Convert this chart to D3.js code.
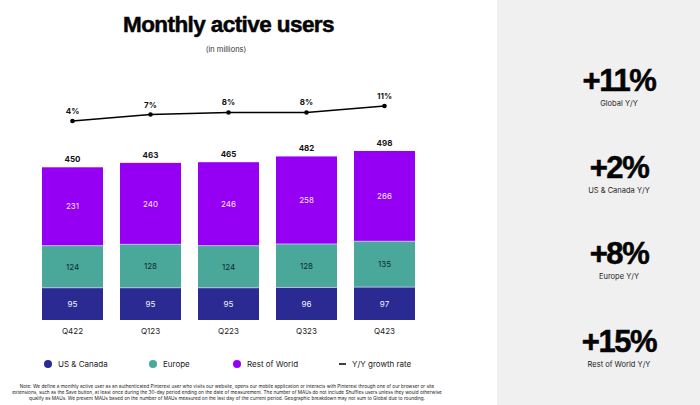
<!DOCTYPE html>
<html><head><meta charset="utf-8">
<script src="https://cdn.jsdelivr.net/npm/d3@7/dist/d3.min.js"></script>
<style>html,body{margin:0;padding:0;background:#fff}svg{display:block}text{font-family:Inter,sans-serif}</style>
</head><body><svg id="c" width="700" height="405"></svg>
<script>
const quarters=["Q422","Q123","Q223","Q323","Q423"];
const usCanada=[95,95,95,96,97];
const europe=[124,128,124,128,135];
const restOfWorld=[231,240,246,258,266];
const totals=[450,463,465,482,498];
const growth=[4,7,8,8,11];
const seriesNames=["US & Canada","Europe","Rest of World"];
const seriesColors=["#2b2a92","#4aa89a","#9500f5"];
const labelColors=["#f2f2ff","#0d2b2b","#f5e6ff"];
const kpiValues=["+11%","+2%","+8%","+15%"];
const kpiLabels=["Global Y/Y","US & Canada Y/Y","Europe Y/Y","Rest of World Y/Y"];
const noteLines=[
"Note: We define a monthly active user as an authenticated Pinterest user who visits our website, opens our mobile application or interacts with Pinterest through one of our browser or site",
"extensions, such as the Save button, at least once during the 30-day period ending on the date of measurement. The number of MAUs do not include Shuffles users unless they would otherwise",
"qualify as MAUs. We present MAUs based on the number of MAUs measured on the last day of the current period. Geographic breakdown may not sum to Global due to rounding."];

const svg=d3.select("#c");
const txt=(x,y,s,size,opts={})=>svg.append("text").attr("x",x).attr("y",y).text(s)
  .attr("font-size",size).attr("text-anchor",opts.anchor||"middle")
  .attr("fill",opts.fill||"#111").attr("font-weight",opts.weight||400)
  .style("font-family",opts.family||null).style("letter-spacing",opts.ls||null);

svg.append("rect").attr("x",497).attr("y",0).attr("width",203).attr("height",405).attr("fill","#f0f0f0");

const heavy="'Liberation Sans',Arial,sans-serif";
txt(228.5,32,"Monthly active users",22.5,{weight:700,family:heavy,fill:"#050505",ls:"-0.58px"}).attr("stroke","#050505").attr("stroke-width",0.5);
txt(226,52,"(in millions)",7.5,{fill:"#333"});

const x=d3.scaleBand().domain(quarters).range([42,415]).paddingInner(17/78).paddingOuter(0);
const y=d3.scaleLinear().domain([0,498]).range([320,151]);
const g=d3.scaleLinear().domain([4,11]).range([121,106]);

const stackRows=quarters.map((q,i)=>({q,a:usCanada[i],b:europe[i],c:restOfWorld[i]}));
const layers=d3.stack().keys(["a","b","c"])(stackRows);
layers.forEach((layer,k)=>{
  svg.append("g").selectAll("rect").data(layer).join("rect")
    .attr("x",d=>x(d.data.q)).attr("width",x.bandwidth())
    .attr("y",d=>y(d[1])).attr("height",d=>y(d[0])-y(d[1]))
    .attr("fill",seriesColors[k]);
  svg.append("g").selectAll("text").data(layer).join("text")
    .attr("x",d=>x(d.data.q)+x.bandwidth()/2)
    .attr("y",d=>(y(d[0])+y(d[1]))/2+3)
    .attr("text-anchor","middle").attr("font-size",8).attr("fill",labelColors[k])
    .text(d=>d[1]-d[0]);
});
// light separators between segments
[0,1].forEach(k=>{
  svg.append("g").selectAll("line").data(layers[k]).join("line")
    .attr("x1",d=>x(d.data.q)).attr("x2",d=>x(d.data.q)+x.bandwidth())
    .attr("y1",d=>y(d[1])).attr("y2",d=>y(d[1]))
    .attr("stroke","#cfc8f5").attr("stroke-width",0.8);
});

quarters.forEach((q,i)=>{
  const cx=x(q)+x.bandwidth()/2;
  txt(cx,y(totals[i])-5,totals[i],8,{weight:700});
  txt(cx,334,q,8,{fill:"#222"});
  txt(cx,g(growth[i])-7,growth[i]+"%",8,{weight:700});
});

const line=d3.line().x((d,i)=>x(quarters[i])+x.bandwidth()/2).y(d=>g(d));
svg.append("path").attr("d",line(growth)).attr("fill","none").attr("stroke","#000").attr("stroke-width",1.5);
svg.append("g").selectAll("circle").data(growth).join("circle")
  .attr("cx",(d,i)=>x(quarters[i])+x.bandwidth()/2).attr("cy",d=>g(d)).attr("r",2.3).attr("fill","#000");

// legend
const legendX=[48,153,237];
seriesNames.forEach((n,i)=>{
  svg.append("circle").attr("cx",legendX[i]).attr("cy",364).attr("r",4).attr("fill",seriesColors[i]);
  txt(legendX[i]+10,367,n,8,{anchor:"start",fill:"#222"});
});
svg.append("line").attr("x1",339).attr("x2",346).attr("y1",364).attr("y2",364).attr("stroke","#000").attr("stroke-width",1.5);
txt(352,367,"Y/Y growth rate",8,{anchor:"start",fill:"#222"});

noteLines.forEach((l,i)=>txt(227,388+i*5.8,l,4.72,{fill:"#222"}));

const kpiY=[91,178,264,352];
kpiValues.forEach((v,i)=>{
  txt(619,kpiY[i],v,31,{weight:700,family:heavy,fill:"#050505",ls:"-1.4px"}).attr("stroke","#050505").attr("stroke-width",0.5);
  txt(619,kpiY[i]+15,kpiLabels[i],7.5,{fill:"#222"});
});
</script></body></html>
